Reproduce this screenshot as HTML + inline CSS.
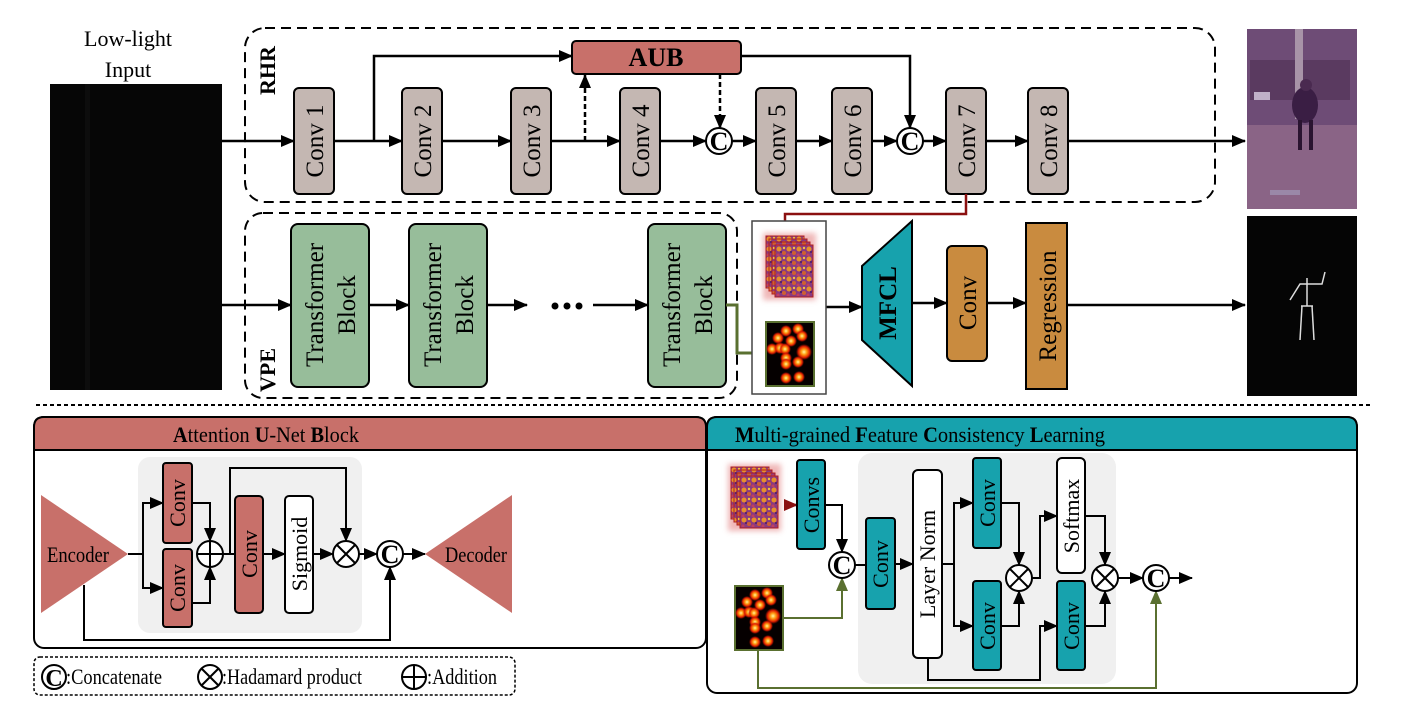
<!DOCTYPE html>
<html><head><meta charset="utf-8"><style>
html,body{margin:0;padding:0;background:#fff;}
svg{display:block;}
text{font-family:"Liberation Serif",serif;fill:#000;}
</style></head><body>
<svg width="1404" height="721" viewBox="0 0 1404 721" xmlns="http://www.w3.org/2000/svg">
<defs>
<marker id="a" markerWidth="14" markerHeight="12" refX="13" refY="6" orient="auto" markerUnits="userSpaceOnUse"><path d="M0,0 L14,6 L0,12 z" fill="#000"/></marker>
<marker id="ar" markerWidth="14" markerHeight="12" refX="13" refY="6" orient="auto" markerUnits="userSpaceOnUse"><path d="M0,0 L14,6 L0,12 z" fill="#8b1010"/></marker>
<marker id="ag" markerWidth="14" markerHeight="12" refX="13" refY="6" orient="auto" markerUnits="userSpaceOnUse"><path d="M0,0 L14,6 L0,12 z" fill="#5a7030"/></marker>
<pattern id="heat" width="10" height="10" patternUnits="userSpaceOnUse">
<rect width="10" height="10" fill="#8a3a80"/>
<circle cx="3" cy="3" r="2.5" fill="#e8902a"/><circle cx="8" cy="7" r="2" fill="#d06030"/><circle cx="8" cy="2" r="1.2" fill="#f0c040"/><circle cx="2" cy="9" r="1.5" fill="#c04060"/><circle cx="5" cy="6" r="1" fill="#4a1a6a"/>
</pattern>
<radialGradient id="dot"><stop offset="0" stop-color="#fff8a0"/><stop offset="0.35" stop-color="#ff9a10"/><stop offset="0.7" stop-color="#e02000"/><stop offset="1" stop-color="#c01000" stop-opacity="0"/></radialGradient>
<filter id="glow" x="-30%" y="-30%" width="160%" height="160%"><feGaussianBlur stdDeviation="3"/></filter>
<g id="stack">
<rect x="-3" y="-3" width="53" height="67" fill="#e07070" opacity="0.5" filter="url(#glow)"/>
<rect x="0" y="0" width="38" height="52" fill="url(#heat)" stroke="#b02020"/>
<rect x="3" y="3" width="38" height="52" fill="url(#heat)" stroke="#b02020"/>
<rect x="6" y="6" width="38" height="52" fill="url(#heat)" stroke="#b02020"/>
<rect x="9" y="9" width="38" height="52" fill="url(#heat)" stroke="#b02020"/>
</g>
<g id="dots">
<rect x="0" y="0" width="48" height="64" fill="#050000" stroke="#5a7030" stroke-width="2"/>
<circle cx="20" cy="9" r="6" fill="url(#dot)"/><circle cx="32" cy="7" r="6" fill="url(#dot)"/><circle cx="36" cy="14" r="6" fill="url(#dot)"/>
<circle cx="12" cy="16" r="6" fill="url(#dot)"/><circle cx="25" cy="19" r="6" fill="url(#dot)"/>
<circle cx="6" cy="27" r="6" fill="url(#dot)"/><circle cx="14" cy="26" r="6" fill="url(#dot)"/><circle cx="19" cy="27" r="6" fill="url(#dot)"/><circle cx="38" cy="30" r="8" fill="url(#dot)"/>
<circle cx="20" cy="36" r="6" fill="url(#dot)"/><circle cx="20" cy="42" r="6" fill="url(#dot)"/><circle cx="32" cy="40" r="6" fill="url(#dot)"/>
<circle cx="20" cy="56" r="6" fill="url(#dot)"/><circle cx="33" cy="55" r="6" fill="url(#dot)"/>
</g>
</defs>

<!-- Top -->
<text x="128" y="46" font-size="22" text-anchor="middle">Low-light</text>
<text x="128" y="77" font-size="22" text-anchor="middle">Input</text>
<rect x="50" y="84" width="172" height="306" fill="#060606"/>
<rect x="85" y="84" width="5" height="306" fill="#0d0d0d"/>

<rect x="245" y="28" width="970" height="174" rx="20" fill="none" stroke="#000" stroke-width="2" stroke-dasharray="10,6"/>
<text transform="translate(275,95) rotate(-90)" font-size="22" font-weight="bold">RHR</text>

<g stroke="#000" stroke-width="2.5" fill="none">
<line x1="222" y1="141" x2="294" y2="141" marker-end="url(#a)"/>
<line x1="334" y1="141" x2="402" y2="141" marker-end="url(#a)"/>
<line x1="442" y1="141" x2="511" y2="141" marker-end="url(#a)"/>
<line x1="551" y1="141" x2="620" y2="141" marker-end="url(#a)"/>
<line x1="660" y1="141" x2="706" y2="141" marker-end="url(#a)"/>
<line x1="732" y1="141" x2="756" y2="141" marker-end="url(#a)"/>
<line x1="796" y1="141" x2="832" y2="141" marker-end="url(#a)"/>
<line x1="872" y1="141" x2="897" y2="141" marker-end="url(#a)"/>
<line x1="923" y1="141" x2="946" y2="141" marker-end="url(#a)"/>
<line x1="986" y1="141" x2="1028" y2="141" marker-end="url(#a)"/>
<line x1="1068" y1="141" x2="1245" y2="141" marker-end="url(#a)"/>
<polyline points="374,141 374,56 572,56" marker-end="url(#a)"/>
<polyline points="741,56 910,56 910,128" marker-end="url(#a)"/>
<line x1="585" y1="141" x2="585" y2="75" stroke-dasharray="5,3" marker-end="url(#a)"/>
<line x1="720" y1="74" x2="720" y2="128" stroke-dasharray="5,3" marker-end="url(#a)"/>
</g>
<rect x="572" y="41" width="169" height="33" rx="4" fill="#c8706a" stroke="#000" stroke-width="2"/>
<text x="656" y="66" font-size="26" font-weight="bold" text-anchor="middle">AUB</text>

<g fill="#c4b7b2" stroke="#000" stroke-width="2">
<rect x="294" y="88" width="40" height="106" rx="5"/>
<rect x="402" y="88" width="40" height="106" rx="5"/>
<rect x="511" y="88" width="40" height="106" rx="5"/>
<rect x="620" y="88" width="40" height="106" rx="5"/>
<rect x="756" y="88" width="40" height="106" rx="5"/>
<rect x="832" y="88" width="40" height="106" rx="5"/>
<rect x="946" y="88" width="40" height="106" rx="5"/>
<rect x="1028" y="88" width="40" height="106" rx="5"/>
</g>
<g font-size="25">
<text transform="translate(323,141) rotate(-90)" text-anchor="middle">Conv 1</text>
<text transform="translate(431,141) rotate(-90)" text-anchor="middle">Conv 2</text>
<text transform="translate(540,141) rotate(-90)" text-anchor="middle">Conv 3</text>
<text transform="translate(649,141) rotate(-90)" text-anchor="middle">Conv 4</text>
<text transform="translate(785,141) rotate(-90)" text-anchor="middle">Conv 5</text>
<text transform="translate(861,141) rotate(-90)" text-anchor="middle">Conv 6</text>
<text transform="translate(975,141) rotate(-90)" text-anchor="middle">Conv 7</text>
<text transform="translate(1057,141) rotate(-90)" text-anchor="middle">Conv 8</text>
</g>
<g fill="#fff" stroke="#000" stroke-width="2">
<circle cx="719" cy="141" r="13"/><circle cx="910" cy="141" r="13"/>
</g>
<text x="719" y="150" font-size="26" font-weight="bold" text-anchor="middle">C</text>
<text x="910" y="150" font-size="26" font-weight="bold" text-anchor="middle">C</text>

<!-- enhanced image -->
<rect x="1247" y="29" width="110" height="180" fill="#6e4c76"/>
<rect x="1247" y="125" width="110" height="84" fill="#8a6486"/>
<rect x="1250" y="60" width="100" height="40" fill="#5a3a60"/>
<rect x="1254" y="92" width="16" height="8" fill="#c0b0c8"/>
<rect x="1295" y="29" width="8" height="90" fill="#a894a8"/>
<ellipse cx="1305" cy="105" rx="13" ry="18" fill="#3a1e44"/>
<circle cx="1306" cy="85" r="6" fill="#4a2a50"/>
<rect x="1298" y="120" width="4" height="30" fill="#2a1430"/><rect x="1309" y="120" width="4" height="30" fill="#2a1430"/>
<rect x="1270" y="190" width="30" height="5" fill="#9a88a8"/>

<polyline points="966,194 966,214 785,214 785,234" fill="none" stroke="#8b1010" stroke-width="2.5" marker-end="url(#ar)"/>

<rect x="245" y="213" width="492" height="185" rx="18" fill="none" stroke="#000" stroke-width="2" stroke-dasharray="10,6"/>
<text transform="translate(275,392) rotate(-90)" font-size="22" font-weight="bold">VPE</text>
<g fill="#97bd9a" stroke="#000" stroke-width="2">
<rect x="291" y="224" width="78" height="163" rx="7"/>
<rect x="409" y="224" width="78" height="163" rx="7"/>
<rect x="648" y="224" width="78" height="163" rx="7"/>
</g>
<g font-size="25">
<text transform="translate(323,305) rotate(-90)" text-anchor="middle">Transformer</text>
<text transform="translate(355,305) rotate(-90)" text-anchor="middle">Block</text>
<text transform="translate(441,305) rotate(-90)" text-anchor="middle">Transformer</text>
<text transform="translate(473,305) rotate(-90)" text-anchor="middle">Block</text>
<text transform="translate(680,305) rotate(-90)" text-anchor="middle">Transformer</text>
<text transform="translate(712,305) rotate(-90)" text-anchor="middle">Block</text>
</g>
<g stroke="#000" stroke-width="2.5" fill="none">
<line x1="222" y1="305" x2="291" y2="305" marker-end="url(#a)"/>
<line x1="369" y1="305" x2="409" y2="305" marker-end="url(#a)"/>
<line x1="487" y1="305" x2="527" y2="305" marker-end="url(#a)"/>
<line x1="593" y1="305" x2="648" y2="305" marker-end="url(#a)"/>
<line x1="826" y1="307" x2="862" y2="307" marker-end="url(#a)"/>
<line x1="912" y1="303" x2="947" y2="303" marker-end="url(#a)"/>
<line x1="987" y1="303" x2="1026" y2="303" marker-end="url(#a)"/>
<line x1="1067" y1="305" x2="1245" y2="305" marker-end="url(#a)"/>
</g>
<circle cx="555" cy="306" r="3.5"/><circle cx="567" cy="306" r="3.5"/><circle cx="579" cy="306" r="3.5"/>
<polyline points="726,305 737,305 737,353 765,353" fill="none" stroke="#5a7030" stroke-width="3" marker-end="url(#ag)"/>

<rect x="752" y="221" width="74" height="173" fill="#fff" stroke="#444" stroke-width="1.5"/>
<use href="#stack" x="766" y="236"/>
<use href="#dots" x="766" y="322"/>

<polygon points="862,266 912,221 912,386 862,340" fill="#17a2ad" stroke="#000" stroke-width="2"/>
<text transform="translate(896,303) rotate(-90)" font-size="25" font-weight="bold" text-anchor="middle">MFCL</text>
<rect x="947" y="246" width="40" height="115" rx="5" fill="#c98b3f" stroke="#000" stroke-width="2"/>
<text transform="translate(976,303) rotate(-90)" font-size="25" text-anchor="middle">Conv</text>
<rect x="1026" y="223" width="41" height="166" fill="#c98b3f" stroke="#000" stroke-width="2"/>
<text transform="translate(1056,306) rotate(-90)" font-size="25" text-anchor="middle">Regression</text>

<rect x="1247" y="216" width="110" height="180" fill="#050505"/>
<g stroke="#ddd" stroke-width="1.5" fill="none">
<polyline points="1290,300 1300,284 1322,284 1325,272"/>
<polyline points="1307,278 1307,306"/>
<polyline points="1302,306 1300,340"/><polyline points="1312,306 1314,340"/>
<line x1="1301" y1="306" x2="1313" y2="306"/>
</g>

<line x1="36" y1="405" x2="1370" y2="405" stroke="#000" stroke-width="2" stroke-dasharray="4,3"/>

<!-- AUB panel -->
<rect x="34" y="417" width="672" height="231" rx="10" fill="#fff" stroke="#000" stroke-width="2"/>
<path d="M34,450 L34,427 Q34,417 44,417 L696,417 Q706,417 706,427 L706,450 Z" fill="#c8706a" stroke="#000" stroke-width="2"/>
<text x="173" y="442" font-size="22" textLength="186" lengthAdjust="spacingAndGlyphs"><tspan font-weight="bold">A</tspan>ttention <tspan font-weight="bold">U</tspan>-Net <tspan font-weight="bold">B</tspan>lock</text>
<rect x="138" y="457" width="224" height="176" rx="12" fill="#f0f0f0"/>
<polygon points="41,495 128,554 41,613" fill="#c8706a"/>
<text x="47" y="562" font-size="22" textLength="62" lengthAdjust="spacingAndGlyphs">Encoder</text>
<polygon points="425,554 512,495 512,613" fill="#c8706a"/>
<text x="445" y="562" font-size="22" textLength="62" lengthAdjust="spacingAndGlyphs">Decoder</text>
<g stroke="#000" stroke-width="2" fill="none">
<polyline points="128,554 143,554"/>
<polyline points="143,554 143,503 163,503" marker-end="url(#a)"/>
<polyline points="143,554 143,588 163,588" marker-end="url(#a)"/>
<polyline points="192,503 210,503 210,541" marker-end="url(#a)"/>
<polyline points="192,603 210,603 210,567" marker-end="url(#a)"/>
<line x1="223" y1="554" x2="235" y2="554"/>
<polyline points="230,554 230,468 346,468 346,541" marker-end="url(#a)"/>
<line x1="263" y1="554" x2="285" y2="554" marker-end="url(#a)"/>
<line x1="313" y1="554" x2="333" y2="554" marker-end="url(#a)"/>
<line x1="359" y1="554" x2="377" y2="554" marker-end="url(#a)"/>
<line x1="403" y1="554" x2="425" y2="554" marker-end="url(#a)"/>
<polyline points="84,585 84,640 390,640 390,567" marker-end="url(#a)"/>
</g>
<g fill="#c8706a" stroke="#000" stroke-width="2">
<rect x="163" y="463" width="29" height="80" rx="3"/>
<rect x="163" y="549" width="29" height="78" rx="3"/>
<rect x="235" y="496" width="28" height="117" rx="4"/>
</g>
<rect x="285" y="496" width="28" height="117" rx="4" fill="#fff" stroke="#000" stroke-width="2"/>
<g font-size="22">
<text transform="translate(185,503) rotate(-90)" text-anchor="middle">Conv</text>
<text transform="translate(185,588) rotate(-90)" text-anchor="middle">Conv</text>
<text transform="translate(257,554) rotate(-90)" text-anchor="middle">Conv</text>
<text transform="translate(307,554) rotate(-90)" text-anchor="middle">Sigmoid</text>
</g>
<g fill="#fff" stroke="#000" stroke-width="2">
<circle cx="210" cy="554" r="13"/><circle cx="346" cy="554" r="13"/><circle cx="390" cy="554" r="13"/>
</g>
<g stroke="#000" stroke-width="2">
<line x1="197" y1="554" x2="223" y2="554"/><line x1="210" y1="541" x2="210" y2="567"/>
<line x1="337" y1="545" x2="355" y2="563"/><line x1="355" y1="545" x2="337" y2="563"/>
</g>
<text x="390" y="563" font-size="26" font-weight="bold" text-anchor="middle">C</text>

<!-- Legend -->
<rect x="34" y="657" width="481" height="38" rx="6" fill="none" stroke="#000" stroke-width="1.5" stroke-dasharray="3,2"/>
<circle cx="54" cy="677" r="12" fill="#fff" stroke="#000" stroke-width="2"/>
<text x="54" y="686" font-size="24" font-weight="bold" text-anchor="middle">C</text>
<text x="66" y="684" font-size="22" textLength="96" lengthAdjust="spacingAndGlyphs">:Concatenate</text>
<circle cx="210" cy="677" r="12" fill="#fff" stroke="#000" stroke-width="2"/>
<g stroke="#000" stroke-width="2"><line x1="202" y1="669" x2="218" y2="685"/><line x1="218" y1="669" x2="202" y2="685"/>
<line x1="402" y1="677" x2="426" y2="677"/><line x1="414" y1="665" x2="414" y2="689"/></g>
<text x="222" y="684" font-size="22" textLength="140" lengthAdjust="spacingAndGlyphs">:Hadamard product</text>
<circle cx="414" cy="677" r="12" fill="none" stroke="#000" stroke-width="2"/>
<text x="427" y="684" font-size="22" textLength="70" lengthAdjust="spacingAndGlyphs">:Addition</text>

<!-- MFCL panel -->
<rect x="707" y="417" width="650" height="276" rx="10" fill="#fff" stroke="#000" stroke-width="2"/>
<path d="M707,450 L707,427 Q707,417 717,417 L1347,417 Q1357,417 1357,427 L1357,450 Z" fill="#17a2ad" stroke="#000" stroke-width="2"/>
<text x="735" y="442" font-size="22" textLength="370" lengthAdjust="spacingAndGlyphs"><tspan font-weight="bold">M</tspan>ulti-grained <tspan font-weight="bold">F</tspan>eature <tspan font-weight="bold">C</tspan>onsistency <tspan font-weight="bold">L</tspan>earning</text>
<rect x="858" y="453" width="258" height="231" rx="14" fill="#f0f0f0"/>
<use href="#stack" x="731" y="467"/>
<use href="#dots" x="735" y="586"/>
<g stroke="#000" stroke-width="2" fill="none">
<polyline points="825,505 842,505 842,552" marker-end="url(#a)"/>
<line x1="855" y1="565" x2="866" y2="565"/>
<line x1="895" y1="564" x2="913" y2="564" marker-end="url(#a)"/>
<polyline points="942,564 954,564 954,503 973,503" marker-end="url(#a)"/>
<polyline points="954,564 954,626 973,626" marker-end="url(#a)"/>
<polyline points="1001,503 1019,503 1019,565" marker-end="url(#a)"/>
<polyline points="1001,626 1019,626 1019,591" marker-end="url(#a)"/>
<polyline points="1032,578 1040,578 1040,516 1057,516" marker-end="url(#a)"/>
<polyline points="1085,516 1105,516 1105,565" marker-end="url(#a)"/>
<polyline points="928,658 928,680 1040,680 1040,626 1057,626" marker-end="url(#a)"/>
<polyline points="1085,626 1105,626 1105,591" marker-end="url(#a)"/>
<line x1="1118" y1="578" x2="1143" y2="578" marker-end="url(#a)"/>
<line x1="1169" y1="578" x2="1192" y2="578" marker-end="url(#a)"/>
</g>
<line x1="786" y1="505" x2="797" y2="505" stroke="#8b1010" stroke-width="2.5" marker-end="url(#ar)"/>
<g stroke="#5a7030" stroke-width="2" fill="none">
<polyline points="784,618 842,618 842,578" marker-end="url(#ag)"/>
<polyline points="758,650 758,688 1156,688 1156,591" marker-end="url(#ag)"/>
</g>
<g fill="#17a2ad" stroke="#000" stroke-width="2">
<rect x="797" y="460" width="28" height="89" rx="3"/>
<rect x="866" y="518" width="29" height="91" rx="3"/>
<rect x="973" y="458" width="28" height="90" rx="3"/>
<rect x="973" y="581" width="28" height="89" rx="3"/>
<rect x="1057" y="581" width="28" height="89" rx="3"/>
</g>
<g fill="#fff" stroke="#000" stroke-width="2">
<rect x="913" y="470" width="29" height="188" rx="5"/>
<rect x="1057" y="458" width="28" height="115" rx="5"/>
<circle cx="842" cy="565" r="13"/><circle cx="1019" cy="578" r="13"/><circle cx="1105" cy="578" r="13"/><circle cx="1156" cy="578" r="13"/>
</g>
<g font-size="22">
<text transform="translate(819,505) rotate(-90)" text-anchor="middle">Convs</text>
<text transform="translate(888,564) rotate(-90)" text-anchor="middle">Conv</text>
<text transform="translate(935,564) rotate(-90)" text-anchor="middle">Layer Norm</text>
<text transform="translate(995,503) rotate(-90)" text-anchor="middle">Conv</text>
<text transform="translate(995,626) rotate(-90)" text-anchor="middle">Conv</text>
<text transform="translate(1079,516) rotate(-90)" text-anchor="middle">Softmax</text>
<text transform="translate(1079,626) rotate(-90)" text-anchor="middle">Conv</text>
</g>
<g stroke="#000" stroke-width="2">
<line x1="1010" y1="569" x2="1028" y2="587"/><line x1="1028" y1="569" x2="1010" y2="587"/>
<line x1="1096" y1="569" x2="1114" y2="587"/><line x1="1114" y1="569" x2="1096" y2="587"/>
</g>
<text x="842" y="574" font-size="26" font-weight="bold" text-anchor="middle">C</text>
<text x="1156" y="587" font-size="26" font-weight="bold" text-anchor="middle">C</text>
</svg>
</body></html>
